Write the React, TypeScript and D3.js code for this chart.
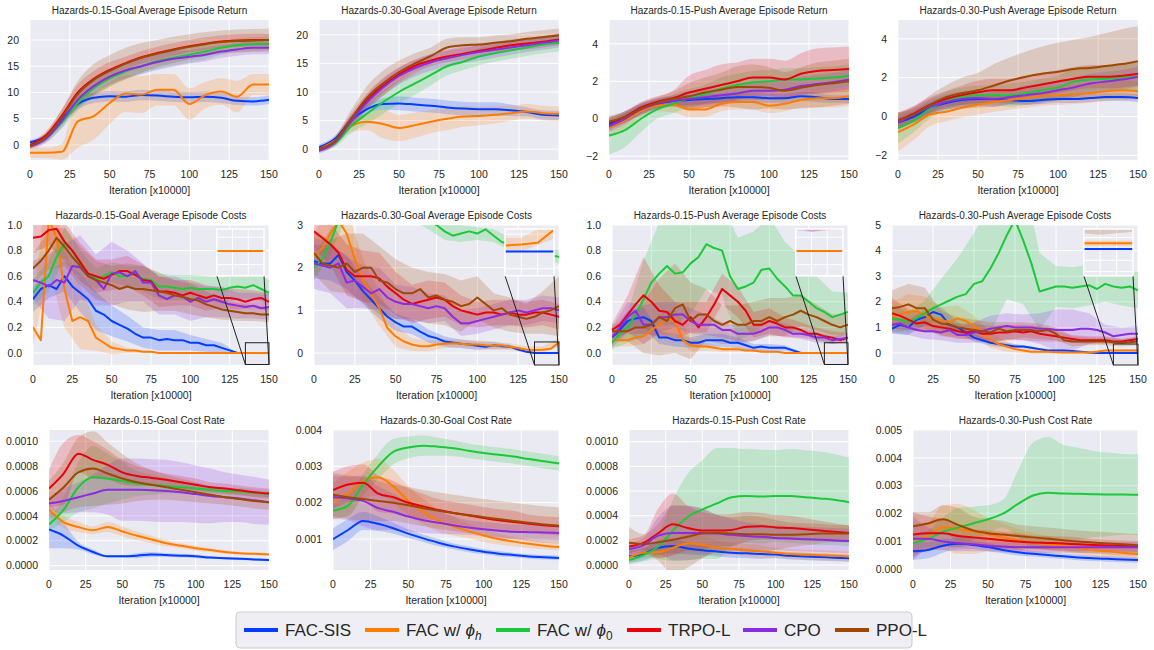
import * as d3 from "d3";

// series order: FAC-SIS, FAC w/ phi_h, FAC w/ phi_0, TRPO-L, CPO, PPO-L
const SERIES = ["FAC-SIS", "FAC w/ ϕh", "FAC w/ ϕ0", "TRPO-L", "CPO", "PPO-L"];
const COLORS = ["#023eff", "#ff7c00", "#1ac938", "#e8000b", "#8b2be2", "#9f4800"];
const X_MAX = 150;
const X_TICKS = [0, 25, 50, 75, 100, 125, 150];

// ---- row 1: average episode return (sampled every 10 iterations)
const retG15Mean = [
  [0.5, 1.7, 5.0, 7.8, 9.0, 9.3, 9.2, 9.5, 9.4, 9.2, 9.1, 9.2, 9.0, 8.4, 8.3, 8.6],
  [-1.5, -1.5, -1.3, 4.5, 5.5, 8.0, 9.8, 9.6, 10.5, 10.5, 7.8, 9.5, 10.2, 9.2, 11.5, 11.5],
  [0.0, 1.3, 4.3, 8.0, 10.8, 12.7, 14.0, 15.0, 16.0, 16.6, 17.2, 17.8, 18.5, 19.0, 19.2, 19.3],
  [0.0, 1.8, 5.6, 10.0, 12.6, 14.3, 15.6, 16.7, 17.5, 18.2, 18.8, 19.3, 19.7, 19.9, 20.0, 20.0],
  [-0.3, 1.2, 4.6, 8.6, 11.2, 13.0, 14.2, 15.0, 15.8, 16.4, 16.8, 17.2, 17.8, 18.2, 18.5, 18.5],
  [-0.2, 1.5, 5.3, 9.7, 12.4, 14.1, 15.5, 16.6, 17.4, 18.1, 18.7, 19.2, 19.6, 19.8, 19.9, 20.0],
];
const retG15Sd = [
  [0.5, 0.5, 0.8, 1.0, 1.0, 1.0, 1.0, 1.0, 1.0, 1.0, 1.0, 1.0, 1.0, 0.8, 0.8, 0.8],
  [1.0, 1.0, 1.5, 5.0, 4.5, 4.0, 3.5, 3.5, 3.0, 3.0, 3.0, 2.5, 2.5, 3.0, 2.0, 2.0],
  [0.5, 0.8, 1.2, 1.5, 1.5, 1.5, 1.5, 1.5, 1.5, 1.5, 1.5, 1.5, 1.3, 1.3, 1.3, 1.3],
  [0.5, 0.8, 1.2, 1.5, 1.5, 1.5, 1.2, 1.2, 1.2, 1.2, 1.2, 1.2, 1.2, 1.2, 1.2, 1.2],
  [0.5, 0.8, 1.2, 1.5, 1.5, 1.5, 1.5, 1.5, 1.5, 1.5, 1.3, 1.3, 1.2, 1.2, 1.2, 1.2],
  [0.5, 0.8, 1.5, 2.5, 3.0, 3.0, 3.0, 2.8, 2.6, 2.5, 2.4, 2.3, 2.2, 2.2, 2.2, 2.2],
];

const retG30Mean = [
  [0.3, 1.8, 5.0, 7.0, 7.9, 8.0, 7.8, 7.6, 7.3, 7.1, 7.0, 7.0, 6.8, 6.5, 6.0, 5.9],
  [0.0, 1.5, 4.0, 4.8, 4.4, 3.7, 4.2, 4.8, 5.3, 5.7, 5.8, 6.0, 6.3, 6.6, 6.3, 6.2],
  [0.0, 1.0, 4.0, 6.2, 8.2, 10.0, 11.5, 13.0, 14.5, 15.3, 16.2, 16.8, 17.3, 17.8, 18.3, 18.6],
  [0.0, 1.4, 5.2, 8.6, 11.1, 13.1, 14.6, 15.5, 16.2, 16.7, 17.2, 17.7, 18.2, 18.5, 18.8, 19.2],
  [-0.3, 1.2, 4.8, 8.2, 10.8, 12.8, 14.2, 15.2, 15.9, 16.5, 17.0, 17.4, 17.8, 18.2, 18.6, 19.0],
  [0.0, 1.4, 5.3, 9.0, 11.5, 13.5, 15.0, 16.3, 17.8, 18.2, 18.3, 18.6, 18.9, 19.3, 19.6, 19.9],
];
const retG30Sd = [
  [0.5, 0.6, 0.8, 0.8, 1.0, 1.2, 1.2, 1.2, 1.2, 1.2, 1.2, 1.2, 1.0, 0.8, 0.8, 0.8],
  [0.5, 0.6, 1.0, 1.5, 2.5, 2.3, 2.2, 2.0, 2.0, 1.8, 1.6, 1.5, 1.3, 1.3, 1.3, 1.3],
  [0.5, 0.6, 1.2, 1.8, 2.0, 2.0, 2.0, 1.8, 1.6, 1.5, 1.5, 1.5, 1.5, 1.5, 1.5, 1.5],
  [0.5, 0.6, 1.0, 1.2, 1.3, 1.2, 1.0, 1.0, 1.0, 1.0, 1.0, 1.0, 1.0, 1.0, 1.0, 1.0],
  [0.5, 0.6, 1.0, 1.2, 1.5, 1.5, 1.5, 1.5, 1.5, 1.5, 1.5, 1.4, 1.3, 1.2, 1.2, 1.2],
  [0.5, 0.8, 1.5, 2.0, 2.2, 2.0, 1.8, 1.5, 1.5, 1.4, 1.3, 1.3, 1.2, 1.2, 1.2, 1.2],
];

const retP15Mean = [
  [-0.3, 0.1, 0.5, 0.8, 0.95, 1.0, 1.05, 1.1, 1.15, 1.15, 1.1, 1.1, 1.2, 1.15, 1.05, 1.05],
  [-0.5, -0.1, 0.4, 0.7, 0.75, 0.5, 0.5, 0.8, 0.9, 0.9, 0.7, 0.8, 1.0, 1.1, 1.1, 1.2],
  [-0.9, -0.6, 0.0, 0.5, 0.8, 1.1, 1.3, 1.6, 1.8, 1.95, 2.0, 2.1, 2.1, 2.15, 2.2, 2.3],
  [-0.2, 0.1, 0.6, 0.9, 1.1, 1.4, 1.6, 1.8, 2.0, 2.2, 2.2, 2.1, 2.4, 2.55, 2.6, 2.65],
  [-0.4, 0.0, 0.5, 0.8, 0.95, 1.05, 1.15, 1.25, 1.35, 1.5, 1.5, 1.55, 1.75, 1.85, 1.95, 2.1],
  [-0.15, 0.1, 0.55, 0.85, 1.05, 1.2, 1.4, 1.55, 1.7, 1.7, 1.65, 1.5, 1.65, 1.8, 1.9, 2.0],
];
const retP15Sd = [
  [0.3, 0.3, 0.3, 0.25, 0.25, 0.25, 0.25, 0.25, 0.25, 0.25, 0.25, 0.25, 0.25, 0.25, 0.2, 0.2],
  [0.5, 0.4, 0.3, 0.3, 0.4, 0.4, 0.4, 0.4, 0.4, 0.4, 0.4, 0.4, 0.4, 0.5, 0.5, 0.5],
  [1.0, 0.9, 0.7, 0.5, 0.5, 0.5, 0.5, 0.6, 0.6, 0.6, 0.6, 0.6, 0.6, 0.6, 0.6, 0.6],
  [0.3, 0.3, 0.3, 0.3, 0.4, 0.9, 1.0, 1.1, 1.0, 1.0, 1.0, 1.0, 1.1, 1.2, 1.2, 1.2],
  [0.3, 0.3, 0.3, 0.3, 0.3, 0.4, 0.4, 0.4, 0.4, 0.5, 0.5, 0.5, 0.5, 0.5, 0.5, 0.5],
  [0.3, 0.3, 0.3, 0.3, 0.4, 0.7, 0.8, 0.9, 1.1, 1.2, 1.1, 1.0, 1.1, 1.2, 1.2, 1.2],
];

const retP30Mean = [
  [-0.3, 0.0, 0.45, 0.7, 0.85, 0.9, 0.9, 0.85, 0.8, 0.85, 0.9, 0.9, 0.95, 1.0, 1.0, 0.95],
  [-0.8, -0.4, 0.1, 0.25, 0.45, 0.6, 0.75, 0.85, 0.95, 1.05, 1.1, 1.15, 1.2, 1.3, 1.35, 1.3],
  [-0.6, -0.2, 0.4, 0.8, 1.0, 1.1, 1.1, 1.1, 1.2, 1.35, 1.5, 1.8, 1.9, 1.95, 2.0, 2.05],
  [-0.2, 0.15, 0.6, 0.9, 1.1, 1.25, 1.35, 1.35, 1.5, 1.65, 1.8, 1.95, 2.05, 2.05, 2.1, 2.2],
  [-0.3, 0.1, 0.5, 0.75, 0.9, 0.95, 0.9, 1.0, 1.1, 1.2, 1.35, 1.5, 1.7, 1.8, 1.9, 2.05],
  [-0.2, 0.1, 0.6, 1.0, 1.2, 1.35, 1.6, 1.85, 2.05, 2.2, 2.3, 2.45, 2.5, 2.6, 2.7, 2.85],
];
const retP30Sd = [
  [0.3, 0.3, 0.3, 0.3, 0.25, 0.2, 0.2, 0.2, 0.2, 0.2, 0.2, 0.2, 0.2, 0.2, 0.2, 0.2],
  [1.0, 0.8, 0.6, 0.5, 0.5, 0.5, 0.5, 0.5, 0.5, 0.5, 0.5, 0.5, 0.5, 0.5, 0.5, 0.5],
  [0.8, 0.6, 0.5, 0.5, 0.5, 0.5, 0.5, 0.6, 0.6, 0.6, 0.6, 0.7, 0.7, 0.7, 0.7, 0.7],
  [0.4, 0.4, 0.4, 0.4, 0.5, 0.6, 0.6, 0.6, 0.6, 0.6, 0.6, 0.6, 0.6, 0.6, 0.6, 0.6],
  [0.4, 0.4, 0.4, 0.4, 0.4, 0.4, 0.4, 0.4, 0.5, 0.5, 0.5, 0.5, 0.5, 0.5, 0.5, 0.5],
  [0.4, 0.4, 0.5, 0.6, 0.8, 0.9, 1.1, 1.2, 1.3, 1.4, 1.5, 1.5, 1.6, 1.7, 1.8, 1.8],
];

// ---- row 2: average episode costs (means every 5 iterations, spread every 10)
const costG15Mean = [
  [0.42, 0.5, 0.53, 0.5, 0.6, 0.52, 0.47, 0.42, 0.33, 0.3, 0.25, 0.22, 0.19, 0.15, 0.12, 0.12, 0.1, 0.11, 0.1, 0.1, 0.08, 0.08, 0.06, 0.06, 0.04, 0.02, 0, 0, 0, 0, 0],
  [0.2, 0.1, 1.05, 0.9, 0.5, 0.25, 0.28, 0.25, 0.12, 0.08, 0.04, 0.03, 0.02, 0.02, 0.01, 0.01, 0, 0, 0, 0, 0, 0, 0, 0, 0, 0, 0, 0, 0, 0, 0],
  [0.47, 0.55, 0.6, 0.75, 0.86, 0.8, 0.7, 0.62, 0.58, 0.6, 0.63, 0.6, 0.6, 0.62, 0.58, 0.57, 0.52, 0.52, 0.51, 0.5, 0.51, 0.5, 0.5, 0.5, 0.49, 0.51, 0.52, 0.51, 0.53, 0.5, 0.47],
  [0.9, 0.91, 0.96, 0.97, 0.87, 0.8, 0.71, 0.62, 0.6, 0.58, 0.61, 0.64, 0.64, 0.61, 0.57, 0.56, 0.48, 0.48, 0.47, 0.45, 0.47, 0.45, 0.43, 0.45, 0.43, 0.43, 0.42, 0.4, 0.42, 0.43, 0.4],
  [0.57, 0.55, 0.52, 0.57, 0.55, 0.68, 0.67, 0.6, 0.57, 0.5, 0.62, 0.63, 0.6, 0.64, 0.55, 0.55, 0.45, 0.42, 0.45, 0.44, 0.4, 0.43, 0.4, 0.42, 0.4, 0.38, 0.37, 0.36, 0.37, 0.35, 0.36],
  [0.66, 0.72, 0.8, 0.9, 0.83, 0.75, 0.68, 0.6, 0.57, 0.55, 0.53, 0.5, 0.52, 0.5, 0.5, 0.49, 0.48, 0.47, 0.45, 0.44, 0.42, 0.41, 0.38, 0.36, 0.34, 0.33, 0.32, 0.31, 0.31, 0.3, 0.3],
];
const costG15Sd = [
  [0.1, 0.1, 0.12, 0.15, 0.15, 0.12, 0.1, 0.08, 0.08, 0.08, 0.06, 0.05, 0.04, 0, 0, 0],
  [0.15, 0.4, 0.3, 0.25, 0.1, 0.05, 0.02, 0.01, 0, 0, 0, 0, 0, 0, 0, 0],
  [0.1, 0.12, 0.12, 0.1, 0.08, 0.08, 0.08, 0.1, 0.1, 0.1, 0.1, 0.1, 0.1, 0.1, 0.1, 0.1],
  [0.12, 0.12, 0.15, 0.15, 0.13, 0.12, 0.12, 0.12, 0.12, 0.1, 0.1, 0.1, 0.08, 0.08, 0.07, 0.07],
  [0.15, 0.25, 0.3, 0.25, 0.2, 0.25, 0.2, 0.15, 0.15, 0.15, 0.15, 0.12, 0.12, 0.1, 0.1, 0.1],
  [0.12, 0.15, 0.15, 0.15, 0.15, 0.15, 0.18, 0.18, 0.15, 0.12, 0.12, 0.1, 0.08, 0.07, 0.06, 0.06],
];

const costG30Mean = [
  [2.15, 2.1, 2.1, 2.3, 1.9, 1.7, 1.45, 1.25, 1.05, 0.85, 0.72, 0.62, 0.62, 0.5, 0.4, 0.35, 0.27, 0.25, 0.22, 0.2, 0.17, 0.15, 0.18, 0.16, 0.15, 0.08, 0.03, 0, 0, 0, 0],
  [2.3, 2.45, 2.8, 3.1, 2.8, 2.2, 1.7, 1.4, 1.05, 0.58, 0.39, 0.27, 0.2, 0.16, 0.16, 0.2, 0.22, 0.23, 0.22, 0.2, 0.2, 0.18, 0.17, 0.18, 0.15, 0.12, 0.08, 0.07, 0.08, 0.1, 0.25],
  [2.0, 2.2, 2.6, 3.1, 3.4, 3.5, 3.5, 3.5, 3.5, 3.5, 3.4, 3.4, 3.3, 3.3, 3.1, 3.0, 2.85, 2.75, 2.8, 2.85, 2.8, 2.9, 2.75, 2.6, 2.55, 2.5, 2.45, 2.4, 2.35, 2.3, 2.25],
  [2.85, 2.7, 2.55, 2.35, 1.95, 1.8, 1.8, 1.8, 1.75, 1.55, 1.4, 1.25, 1.15, 1.2, 1.25, 1.3, 1.25, 1.1, 1.0, 0.95, 0.9, 0.95, 0.95, 0.9, 0.95, 0.9, 0.9, 0.95, 0.95, 0.9, 0.85],
  [2.1, 2.05, 2.0, 2.1, 1.65, 1.7, 1.55, 1.4, 1.5, 1.3, 1.2, 1.15, 1.15, 1.1, 1.05, 1.1, 1.05, 0.85, 0.7, 0.7, 0.75, 0.8, 0.85, 0.9, 0.95, 1.0, 0.95, 1.0, 1.05, 1.05, 1.0],
  [2.35, 2.1, 2.05, 2.0, 2.1, 1.9, 2.0, 2.0, 1.7, 1.65, 1.5, 1.4, 1.4, 1.5, 1.3, 1.35, 1.25, 1.2, 1.1, 1.15, 1.3, 1.15, 1.0, 1.05, 0.9, 0.85, 0.8, 0.85, 0.95, 1.0, 1.1],
];
const costG30Sd = [
  [0.4, 0.4, 0.4, 0.3, 0.25, 0.2, 0.18, 0.15, 0.12, 0.1, 0.1, 0.08, 0.05, 0, 0, 0],
  [0.5, 0.6, 0.6, 0.5, 0.4, 0.25, 0.15, 0.12, 0.1, 0.1, 0.1, 0.1, 0.08, 0.08, 0.08, 0.1],
  [0.3, 0.3, 0.2, 0.2, 0.2, 0.2, 0.2, 0.2, 0.2, 0.2, 0.15, 0.15, 0.15, 0.15, 0.15, 0.15],
  [0.4, 0.5, 0.6, 0.6, 0.6, 0.5, 0.45, 0.45, 0.4, 0.35, 0.3, 0.3, 0.3, 0.3, 0.3, 0.3],
  [0.6, 0.6, 0.6, 0.5, 0.5, 0.4, 0.4, 0.35, 0.3, 0.3, 0.3, 0.3, 0.3, 0.3, 0.3, 0.3],
  [0.5, 0.6, 0.7, 0.8, 0.8, 0.7, 0.6, 0.6, 0.6, 0.6, 0.5, 0.4, 0.4, 0.35, 0.5, 0.7],
];

const costP15Mean = [
  [0.12, 0.18, 0.25, 0.27, 0.28, 0.25, 0.12, 0.12, 0.1, 0.1, 0.08, 0.08, 0.1, 0.1, 0.1, 0.08, 0.08, 0.06, 0.04, 0.05, 0.04, 0.04, 0.04, 0.02, 0, 0, 0, 0, 0, 0, 0],
  [0.1, 0.1, 0.1, 0.12, 0.13, 0.18, 0.22, 0.27, 0.25, 0.1, 0.06, 0.05, 0.05, 0.04, 0.03, 0.03, 0.03, 0.02, 0.02, 0.01, 0.01, 0.01, 0, 0, 0, 0, 0, 0, 0, 0, 0],
  [0.08, 0.15, 0.2, 0.3, 0.42, 0.55, 0.62, 0.68, 0.62, 0.63, 0.7, 0.75, 0.85, 0.82, 0.8, 0.6, 0.5, 0.52, 0.55, 0.65, 0.66, 0.58, 0.52, 0.45, 0.45, 0.4, 0.35, 0.32, 0.28, 0.3, 0.32],
  [0.18, 0.22, 0.3, 0.38, 0.45, 0.4, 0.33, 0.32, 0.25, 0.22, 0.28, 0.2, 0.28, 0.38, 0.5, 0.45, 0.4, 0.33, 0.22, 0.22, 0.25, 0.23, 0.2, 0.2, 0.18, 0.15, 0.15, 0.13, 0.12, 0.1, 0.12],
  [0.12, 0.2, 0.28, 0.33, 0.22, 0.22, 0.28, 0.28, 0.3, 0.3, 0.25, 0.22, 0.22, 0.22, 0.18, 0.18, 0.15, 0.15, 0.15, 0.17, 0.2, 0.2, 0.18, 0.15, 0.15, 0.14, 0.12, 0.12, 0.1, 0.11, 0.12],
  [0.17, 0.17, 0.17, 0.2, 0.2, 0.22, 0.28, 0.25, 0.35, 0.38, 0.25, 0.3, 0.3, 0.25, 0.22, 0.25, 0.22, 0.22, 0.25, 0.25, 0.28, 0.25, 0.28, 0.3, 0.33, 0.3, 0.28, 0.25, 0.22, 0.2, 0.22],
];
const costP15Sd = [
  [0.05, 0.08, 0.08, 0.05, 0.05, 0.04, 0.05, 0.05, 0.04, 0.03, 0.03, 0.02, 0.01, 0, 0, 0],
  [0.05, 0.05, 0.06, 0.08, 0.1, 0.05, 0.03, 0.02, 0.02, 0.01, 0.01, 0, 0, 0, 0, 0],
  [0.05, 0.12, 0.3, 0.4, 0.4, 0.4, 0.35, 0.35, 0.4, 0.4, 0.4, 0.35, 0.3, 0.25, 0.2, 0.15],
  [0.05, 0.15, 0.3, 0.2, 0.15, 0.12, 0.12, 0.12, 0.12, 0.1, 0.1, 0.08, 0.06, 0.05, 0.05, 0.04],
  [0.08, 0.12, 0.15, 0.12, 0.1, 0.1, 0.08, 0.06, 0.06, 0.06, 0.06, 0.05, 0.04, 0.04, 0.03, 0.03],
  [0.05, 0.08, 0.2, 0.3, 0.35, 0.3, 0.2, 0.15, 0.15, 0.15, 0.15, 0.15, 0.12, 0.1, 0.08, 0.08],
];

const costP30Mean = [
  [0.95, 1.1, 1.0, 1.3, 1.4, 1.6, 1.5, 1.1, 1.0, 0.8, 0.6, 0.5, 0.4, 0.35, 0.3, 0.25, 0.25, 0.2, 0.15, 0.1, 0.1, 0.1, 0.08, 0.05, 0.02, 0, 0, 0, 0, 0, 0],
  [1.4, 1.5, 1.6, 1.65, 1.5, 1.3, 1.3, 1.2, 1.35, 1.25, 1.05, 0.8, 0.5, 0.35, 0.25, 0.15, 0.1, 0.05, 0.05, 0.05, 0.03, 0.02, 0.02, 0.02, 0.02, 0.05, 0.1, 0.1, 0.1, 0.1, 0.1],
  [1.35, 1.3, 1.2, 1.35, 1.55, 1.75, 1.9, 2.05, 2.2, 2.3, 2.7, 2.8, 3.3, 3.9, 4.6, 5.2, 4.4, 3.5, 2.4, 2.5, 2.6, 2.6, 2.55, 2.6, 2.65, 2.5, 2.7, 2.6, 2.55, 2.6, 2.45],
  [1.55, 1.45, 1.3, 1.15, 1.2, 1.05, 1.0, 0.95, 0.85, 0.8, 0.85, 0.75, 0.75, 0.8, 0.8, 0.85, 0.8, 0.85, 0.75, 0.7, 0.65, 0.6, 0.55, 0.5, 0.5, 0.5, 0.5, 0.45, 0.45, 0.5, 0.55],
  [1.1, 1.15, 1.0, 0.9, 0.85, 0.85, 0.8, 0.9, 0.7, 0.7, 0.8, 0.85, 0.95, 1.0, 1.05, 1.0, 1.0, 1.0, 0.95, 0.95, 0.9, 0.9, 0.9, 0.95, 0.95, 0.9, 0.8, 0.65, 0.7, 0.75, 0.75],
  [1.75, 1.8, 1.9, 1.75, 1.75, 1.3, 1.15, 1.1, 1.0, 0.95, 0.9, 0.85, 0.8, 0.95, 0.85, 0.9, 0.9, 0.9, 0.85, 0.9, 0.75, 0.5, 0.45, 0.45, 0.45, 0.45, 0.45, 0.42, 0.4, 0.42, 0.45],
];
const costP30Sd = [
  [0.2, 0.3, 0.3, 0.3, 0.2, 0.15, 0.12, 0.1, 0.05, 0.04, 0.03, 0.02, 0, 0, 0, 0],
  [0.6, 0.7, 0.7, 0.5, 0.5, 0.4, 0.3, 0.2, 0.1, 0.08, 0.05, 0.05, 0.05, 0.05, 0.05, 0.05],
  [0.5, 0.4, 0.5, 1.0, 1.5, 2.0, 2.5, 2.5, 2.5, 1.5, 0.8, 0.8, 0.8, 0.7, 0.7, 0.7],
  [0.6, 0.4, 0.3, 0.3, 0.3, 0.3, 0.3, 0.3, 0.3, 0.3, 0.2, 0.15, 0.15, 0.15, 0.1, 0.1],
  [0.3, 0.3, 0.3, 0.3, 0.3, 0.4, 0.5, 0.5, 0.5, 0.6, 0.8, 0.8, 0.6, 0.3, 0.3, 0.3],
  [0.7, 0.8, 0.8, 0.5, 0.4, 0.4, 0.4, 0.35, 0.3, 0.3, 0.25, 0.2, 0.15, 0.15, 0.15, 0.15],
];

// ---- row 3: cost rate (x1e-4 for 0.15, x1e-3 for 0.30)
const rateG15Mean = [
  [2.9, 2.4, 1.6, 1.1, 0.75, 0.75, 0.8, 0.9, 0.85, 0.8, 0.75, 0.65, 0.6, 0.55, 0.5, 0.45],
  [4.5, 3.5, 3.1, 2.85, 3.1, 2.75, 2.4, 2.1, 1.8, 1.6, 1.4, 1.25, 1.1, 1.0, 0.95, 0.9],
  [3.3, 4.5, 6.3, 7.1, 7.0, 6.8, 6.6, 6.5, 6.4, 6.3, 6.2, 6.1, 6.0, 5.95, 5.85, 5.75],
  [6.2, 7.4, 9.0, 8.5, 8.1, 7.5, 7.2, 7.05, 6.9, 6.7, 6.5, 6.3, 6.2, 6.05, 5.9, 5.8],
  [5.0, 5.2, 5.5, 5.8, 6.1, 6.1, 6.1, 6.05, 6.0, 5.9, 5.75, 5.6, 5.5, 5.4, 5.25, 5.1],
  [5.3, 6.3, 7.5, 7.8, 7.4, 7.0, 6.7, 6.5, 6.3, 6.1, 5.9, 5.7, 5.5, 5.35, 5.2, 5.1],
];
const rateG15Sd = [
  [1.5, 1.0, 0.3, 0.2, 0.1, 0.1, 0.2, 0.2, 0.15, 0.15, 0.15, 0.1, 0.1, 0.1, 0.1, 0.1],
  [0.5, 0.5, 0.4, 0.3, 0.4, 0.4, 0.35, 0.3, 0.25, 0.2, 0.2, 0.15, 0.15, 0.1, 0.1, 0.1],
  [0.5, 1.0, 2.0, 2.5, 2.0, 1.5, 1.0, 0.8, 0.6, 0.5, 0.4, 0.3, 0.3, 0.3, 0.3, 0.3],
  [1.5, 2.5, 1.5, 1.5, 1.2, 1.0, 0.8, 0.6, 0.5, 0.5, 0.5, 0.4, 0.4, 0.4, 0.4, 0.4],
  [0.5, 1.0, 1.2, 1.5, 2.0, 2.5, 2.5, 2.5, 2.5, 2.4, 2.3, 2.2, 2.0, 1.9, 1.9, 1.8],
  [1.5, 2.0, 2.8, 3.0, 2.5, 2.0, 1.5, 1.2, 1.0, 0.9, 0.8, 0.7, 0.6, 0.6, 0.6, 0.6],
];

const rateG30Mean = [
  [1.0, 1.25, 1.5, 1.42, 1.3, 1.15, 1.02, 0.9, 0.8, 0.72, 0.65, 0.6, 0.56, 0.52, 0.5, 0.48],
  [2.05, 2.25, 2.6, 2.7, 2.45, 2.05, 1.75, 1.5, 1.35, 1.22, 1.1, 1.0, 0.93, 0.87, 0.82, 0.78],
  [1.78, 1.92, 2.5, 3.0, 3.4, 3.52, 3.57, 3.54, 3.5, 3.43, 3.37, 3.32, 3.27, 3.2, 3.14, 3.08],
  [2.35, 2.5, 2.55, 2.25, 2.15, 2.0, 1.9, 1.8, 1.72, 1.65, 1.58, 1.52, 1.47, 1.42, 1.38, 1.35],
  [2.15, 2.12, 2.05, 1.85, 1.75, 1.62, 1.52, 1.45, 1.38, 1.32, 1.27, 1.23, 1.2, 1.19, 1.18, 1.17],
  [2.22, 2.15, 2.1, 2.05, 2.0, 1.93, 1.85, 1.78, 1.72, 1.66, 1.6, 1.55, 1.5, 1.45, 1.4, 1.37],
];
const rateG30Sd = [
  [0.3, 0.3, 0.25, 0.2, 0.15, 0.12, 0.1, 0.1, 0.08, 0.08, 0.07, 0.07, 0.06, 0.06, 0.06, 0.06],
  [0.5, 0.6, 0.5, 0.5, 0.45, 0.4, 0.35, 0.3, 0.25, 0.2, 0.18, 0.15, 0.13, 0.12, 0.1, 0.1],
  [0.2, 0.3, 0.3, 0.35, 0.35, 0.3, 0.28, 0.25, 0.22, 0.2, 0.2, 0.2, 0.2, 0.2, 0.2, 0.2],
  [0.5, 0.5, 0.5, 0.5, 0.45, 0.4, 0.35, 0.3, 0.3, 0.3, 0.3, 0.3, 0.3, 0.25, 0.25, 0.25],
  [0.6, 0.6, 0.7, 0.6, 0.5, 0.4, 0.35, 0.3, 0.25, 0.2, 0.2, 0.2, 0.2, 0.2, 0.2, 0.2],
  [0.6, 0.6, 0.6, 0.55, 0.5, 0.5, 0.5, 0.5, 0.5, 0.5, 0.5, 0.5, 0.5, 0.5, 0.5, 0.5],
];

const rateP15Mean = [
  [0.7, 0.9, 1.4, 1.55, 1.35, 1.2, 1.1, 1.0, 0.95, 0.9, 0.85, 0.75, 0.7, 0.65, 0.6, 0.55],
  [0.6, 1.0, 1.05, 1.4, 1.75, 1.65, 1.4, 1.3, 1.2, 1.1, 1.0, 0.9, 0.85, 0.8, 0.75, 0.7],
  [0.4, 0.8, 1.5, 2.8, 3.9, 4.5, 5.0, 5.5, 5.6, 5.55, 5.6, 5.6, 5.5, 5.4, 5.3, 5.1],
  [1.5, 1.8, 2.6, 3.3, 3.0, 2.8, 2.8, 2.85, 3.1, 3.15, 3.05, 3.0, 2.9, 2.8, 2.7, 2.6],
  [1.3, 1.6, 2.4, 2.6, 2.6, 2.6, 2.55, 2.45, 2.35, 2.3, 2.2, 2.15, 2.1, 2.05, 2.0, 1.95],
  [1.8, 1.7, 1.85, 2.05, 2.3, 2.55, 2.6, 2.55, 2.5, 2.5, 2.45, 2.45, 2.5, 2.55, 2.55, 2.55],
];
const rateP15Sd = [
  [0.5, 0.5, 0.6, 0.6, 0.5, 0.4, 0.4, 0.4, 0.4, 0.4, 0.3, 0.3, 0.3, 0.3, 0.3, 0.3],
  [0.5, 0.4, 0.5, 0.6, 0.8, 0.7, 0.6, 0.5, 0.5, 0.5, 0.4, 0.4, 0.4, 0.4, 0.4, 0.4],
  [0.4, 0.5, 1.0, 2.5, 3.5, 4.0, 4.5, 4.0, 3.8, 3.8, 3.7, 3.8, 3.8, 3.8, 3.7, 3.6],
  [0.6, 0.6, 2.0, 2.5, 1.8, 1.5, 1.3, 1.3, 1.2, 1.1, 1.0, 1.0, 0.9, 0.8, 0.7, 0.6],
  [0.5, 0.6, 1.5, 2.2, 2.2, 2.0, 1.5, 1.3, 1.1, 1.0, 1.0, 1.0, 1.0, 1.0, 1.0, 1.0],
  [1.3, 0.8, 1.5, 2.8, 2.5, 2.0, 1.5, 1.3, 1.5, 1.4, 1.2, 1.0, 0.9, 0.8, 0.7, 0.7],
];

const rateP30Mean = [
  [0.65, 0.7, 0.85, 0.92, 0.88, 0.8, 0.7, 0.62, 0.56, 0.52, 0.47, 0.43, 0.4, 0.38, 0.36, 0.34],
  [1.05, 1.2, 1.5, 1.45, 1.35, 1.25, 1.15, 1.05, 0.97, 0.9, 0.85, 0.78, 0.7, 0.65, 0.6, 0.55],
  [0.95, 1.1, 1.35, 1.5, 1.65, 1.8, 2.0, 2.35, 2.65, 2.75, 2.72, 2.71, 2.7, 2.69, 2.69, 2.68],
  [1.25, 1.3, 1.3, 1.2, 1.15, 1.1, 1.05, 1.0, 0.97, 0.95, 0.93, 0.9, 0.88, 0.86, 0.84, 0.82],
  [1.1, 1.1, 1.0, 0.95, 0.9, 0.85, 0.82, 0.8, 0.8, 0.8, 0.8, 0.8, 0.8, 0.8, 0.8, 0.8],
  [1.55, 1.65, 1.8, 1.6, 1.4, 1.3, 1.25, 1.2, 1.15, 1.1, 1.05, 1.0, 0.97, 0.93, 0.9, 0.87],
];
const rateP30Sd = [
  [0.3, 0.3, 0.25, 0.2, 0.15, 0.15, 0.12, 0.12, 0.1, 0.1, 0.1, 0.1, 0.1, 0.1, 0.1, 0.1],
  [0.6, 0.5, 0.8, 0.9, 0.8, 0.6, 0.5, 0.4, 0.35, 0.3, 0.25, 0.25, 0.25, 0.25, 0.25, 0.25],
  [0.3, 0.3, 0.5, 0.7, 0.6, 0.5, 0.5, 1.2, 1.9, 2.0, 1.75, 1.65, 1.55, 1.5, 1.45, 1.45],
  [0.8, 0.6, 0.5, 0.4, 0.3, 0.3, 0.3, 0.3, 0.25, 0.25, 0.25, 0.25, 0.2, 0.2, 0.2, 0.2],
  [0.8, 0.4, 0.3, 0.3, 0.25, 0.2, 0.2, 0.2, 0.2, 0.2, 0.2, 0.2, 0.2, 0.2, 0.2, 0.2],
  [0.5, 0.4, 0.5, 0.6, 0.5, 0.5, 0.5, 0.4, 0.4, 0.4, 0.4, 0.4, 0.4, 0.4, 0.4, 0.4],
];

type PanelSpec = {
  title: string;
  mean: number[][];
  sd: number[][];
  unit: number;
  yDomain: [number, number];
  yTicks: number[];
  fmt: (v: number) => string;
  box: [number, number, number, number];
  smooth: boolean;
  inset?: [number, number];
};

const fInt = d3.format("d");
const f1 = d3.format(".1f");

const PANELS: PanelSpec[] = [
  { title: "Hazards-0.15-Goal Average Episode Return", mean: retG15Mean, sd: retG15Sd, unit: 1, yDomain: [-2.86, 23.8], yTicks: [0, 5, 10, 15, 20], fmt: fInt, box: [30, 269, 20, 160], smooth: true },
  { title: "Hazards-0.30-Goal Average Episode Return", mean: retG30Mean, sd: retG30Sd, unit: 1, yDomain: [-1.9, 22.6], yTicks: [0, 5, 10, 15, 20], fmt: fInt, box: [319, 559, 20, 160], smooth: true },
  { title: "Hazards-0.15-Push Average Episode Return", mean: retP15Mean, sd: retP15Sd, unit: 1, yDomain: [-2.2, 5.27], yTicks: [-2, 0, 2, 4], fmt: fInt, box: [609, 849, 20, 160], smooth: true },
  { title: "Hazards-0.30-Push Average Episode Return", mean: retP30Mean, sd: retP30Sd, unit: 1, yDomain: [-2.24, 4.97], yTicks: [-2, 0, 2, 4], fmt: fInt, box: [898, 1138, 20, 160], smooth: true },
  { title: "Hazards-0.15-Goal Average Episode Costs", mean: costG15Mean, sd: costG15Sd, unit: 1, yDomain: [-0.094, 1.0], yTicks: [0, 0.2, 0.4, 0.6, 0.8, 1.0], fmt: f1, box: [33, 269, 225, 365], smooth: false, inset: [-0.09, 0.08] },
  { title: "Hazards-0.30-Goal Average Episode Costs", mean: costG30Mean, sd: costG30Sd, unit: 1, yDomain: [-0.28, 3.0], yTicks: [0, 1, 2, 3], fmt: fInt, box: [314, 559, 225, 365], smooth: false, inset: [-0.28, 0.26] },
  { title: "Hazards-0.15-Push Average Episode Costs", mean: costP15Mean, sd: costP15Sd, unit: 1, yDomain: [-0.094, 1.0], yTicks: [0, 0.2, 0.4, 0.6, 0.8, 1.0], fmt: f1, box: [612, 848, 225, 365], smooth: false, inset: [-0.09, 0.08] },
  { title: "Hazards-0.30-Push Average Episode Costs", mean: costP30Mean, sd: costP30Sd, unit: 1, yDomain: [-0.47, 5.0], yTicks: [0, 1, 2, 3, 4, 5], fmt: fInt, box: [892, 1138, 225, 365], smooth: false, inset: [-0.47, 0.35] },
  { title: "Hazards-0.15-Goal Cost Rate", mean: rateG15Mean, sd: rateG15Sd, unit: 1e-4, yDomain: [-0.000035, 0.00109], yTicks: [0, 0.0002, 0.0004, 0.0006, 0.0008, 0.001], fmt: d3.format(".4f"), box: [49, 269, 430, 570], smooth: true },
  { title: "Hazards-0.30-Goal Cost Rate", mean: rateG30Mean, sd: rateG30Sd, unit: 1e-3, yDomain: [0.00015, 0.004], yTicks: [0.001, 0.002, 0.003, 0.004], fmt: d3.format(".3f"), box: [333, 559, 430, 570], smooth: true },
  { title: "Hazards-0.15-Push Cost Rate", mean: rateP15Mean, sd: rateP15Sd, unit: 1e-4, yDomain: [-0.00004, 0.001095], yTicks: [0, 0.0002, 0.0004, 0.0006, 0.0008, 0.001], fmt: d3.format(".4f"), box: [629, 849, 430, 570], smooth: true },
  { title: "Hazards-0.30-Push Cost Rate", mean: rateP30Mean, sd: rateP30Sd, unit: 1e-3, yDomain: [-0.00002, 0.005], yTicks: [0, 0.001, 0.002, 0.003, 0.004, 0.005], fmt: d3.format(".3f"), box: [913, 1138, 430, 570], smooth: true },
];

const FONT = "'Liberation Sans', Arial, sans-serif";
const TEXT = "#262626";
const BG = "#EAEAF2";

const xsOf = (n: number) => d3.range(n).map((i) => (i * X_MAX) / (n - 1));

function seriesPaths(
  p: PanelSpec,
  s: number,
  x: d3.ScaleLinear<number, number>,
  y: d3.ScaleLinear<number, number>
) {
  const m = p.mean[s];
  const sd = p.sd[s];
  const mx = xsOf(m.length);
  const sx = xsOf(sd.length);
  const step = (m.length - 1) / (sd.length - 1);
  const curve = p.smooth ? d3.curveMonotoneX : d3.curveLinear;
  const line = d3
    .line<number>()
    .x((_, i) => x(mx[i]))
    .y((v) => y(v * p.unit))
    .curve(curve)(m) as string;
  const area = d3
    .area<number>()
    .x((_, j) => x(sx[j]))
    .y0((v, j) => y((m[Math.round(j * step)] - v) * p.unit))
    .y1((v, j) => y((m[Math.round(j * step)] + v) * p.unit))
    .curve(curve)(sd) as string;
  return { line, area };
}

function SeriesLayer({ p, x, y }: { p: PanelSpec; x: any; y: any }) {
  const paths = p.mean.map((_, s) => seriesPaths(p, s, x, y));
  return (
    <g>
      {paths.map((d, s) => (
        <path key={`a${s}`} d={d.area} fill={COLORS[s]} fillOpacity={0.2} stroke="none" />
      ))}
      {paths.map((d, s) => (
        <path key={`l${s}`} d={d.line} fill="none" stroke={COLORS[s]} strokeWidth={2} strokeLinejoin="round" />
      ))}
    </g>
  );
}

function Panel({ p, idx }: { p: PanelSpec; idx: number }) {
  const [x0, x1, y0, y1] = p.box;
  const x = d3.scaleLinear().domain([0, X_MAX]).range([x0, x1]);
  const y = d3.scaleLinear().domain(p.yDomain).range([y1, y0]);
  const clipId = `clip-${idx}`;
  const w = x1 - x0;
  const h = y1 - y0;

  let inset = null;
  if (p.inset) {
    const iw = w * 0.2;
    const ih = h / 3;
    const ix1 = x1 - 5;
    const ix0 = ix1 - iw;
    const iy0 = y0 + 4;
    const iy1 = iy0 + ih;
    const xi = d3.scaleLinear().domain([135, X_MAX]).range([ix0, ix1]);
    const yi = d3.scaleLinear().domain(p.inset).range([iy1, iy0]);
    const iclip = `iclip-${idx}`;
    const rx0 = x(135);
    const rx1 = x(X_MAX);
    const ry0 = y(p.inset[1]);
    const ry1 = y(p.inset[0]);
    inset = (
      <g>
        <clipPath id={iclip}>
          <rect x={ix0} y={iy0} width={iw} height={ih} />
        </clipPath>
        <rect x={rx0} y={ry0} width={rx1 - rx0} height={ry1 - ry0} fill="none" stroke="#222" strokeWidth={1} />
        <line x1={ix0} y1={iy1} x2={rx0} y2={ry1} stroke="#222" strokeWidth={1} />
        <line x1={ix1} y1={iy1} x2={rx1} y2={ry1} stroke="#222" strokeWidth={1} />
        <rect x={ix0} y={iy0} width={iw} height={ih} fill={BG} />
        {[140, 145].map((t) => (
          <line key={`ix${t}`} x1={xi(t)} x2={xi(t)} y1={iy0} y2={iy1} stroke="#fff" strokeWidth={1} />
        ))}
        {yi.ticks(3).map((t) => (
          <line key={`iy${t}`} x1={ix0} x2={ix1} y1={yi(t)} y2={yi(t)} stroke="#fff" strokeWidth={1} />
        ))}
        <g clipPath={`url(#${iclip})`}>
          <SeriesLayer p={p} x={xi} y={yi} />
        </g>
        <rect x={ix0} y={iy0} width={iw} height={ih} fill="none" stroke="#fff" strokeWidth={1.5} />
      </g>
    );
  }

  return (
    <g fontFamily={FONT} fill={TEXT}>
      <clipPath id={clipId}>
        <rect x={x0} y={y0} width={w} height={h} />
      </clipPath>
      <rect x={x0} y={y0} width={w} height={h} fill={BG} />
      {X_TICKS.map((t) => (
        <line key={`gx${t}`} x1={x(t)} x2={x(t)} y1={y0} y2={y1} stroke="#fff" strokeWidth={1} />
      ))}
      {p.yTicks.map((t) => (
        <line key={`gy${t}`} x1={x0} x2={x1} y1={y(t)} y2={y(t)} stroke="#fff" strokeWidth={1} />
      ))}
      <g clipPath={`url(#${clipId})`}>
        <SeriesLayer p={p} x={x} y={y} />
      </g>
      {inset}
      <text x={(x0 + x1) / 2} y={y0 - 6.5} textAnchor="middle" fontSize={10}>
        {p.title}
      </text>
      {X_TICKS.map((t) => (
        <text key={`tx${t}`} x={x(t)} y={y1 + 18} textAnchor="middle" fontSize={10.5}>
          {t}
        </text>
      ))}
      {p.yTicks.map((t) => (
        <text key={`ty${t}`} x={x0 - 11} y={y(t) + 3.7} textAnchor="end" fontSize={10.5}>
          {p.fmt(t)}
        </text>
      ))}
      <text x={(x0 + x1) / 2} y={y1 + 34} textAnchor="middle" fontSize={10.5}>
        Iteration [x10000]
      </text>
    </g>
  );
}

function Legend() {
  const lx = 236;
  const ly = 612;
  const lw = 676;
  const lh = 36;
  const fs = 17;
  const handle = 34;
  const pad = 7;
  const textW = [66, 76, 76, 61, 37, 50];
  let cur = lx + 8;
  const items = SERIES.map((name, i) => {
    const hx = cur;
    const tx = hx + handle + pad;
    cur = tx + textW[i] + 14;
    return { name, i, hx, tx };
  });
  const cy = ly + lh / 2;
  return (
    <g fontFamily={FONT} fill={TEXT}>
      <rect x={lx} y={ly} width={lw} height={lh} rx={4} fill="#EEEEF4" stroke="#CCCCCC" />
      {items.map((it) => (
        <g key={it.name}>
          <line x1={it.hx} x2={it.hx + handle} y1={cy} y2={cy} stroke={COLORS[it.i]} strokeWidth={4} />
          <text x={it.tx} y={cy + 6} fontSize={fs}>
            {it.i === 1 || it.i === 2 ? (
              <>
                FAC w/ <tspan fontStyle="italic">ϕ</tspan>
                <tspan fontSize={fs * 0.7} dy={4} fontStyle={it.i === 1 ? "italic" : "normal"}>
                  {it.i === 1 ? "h" : "0"}
                </tspan>
              </>
            ) : (
              it.name
            )}
          </text>
        </g>
      ))}
    </g>
  );
}

export default function App() {
  return (
    <svg
      width={1154}
      height={650}
      viewBox="0 0 1154 650"
      style={{ position: "absolute", left: 0, top: 0, background: "#fff" }}
    >
      <rect x={0} y={0} width={1154} height={650} fill="#fff" />
      {PANELS.map((p, i) => (
        <Panel key={i} p={p} idx={i} />
      ))}
      <Legend />
    </svg>
  );
}
